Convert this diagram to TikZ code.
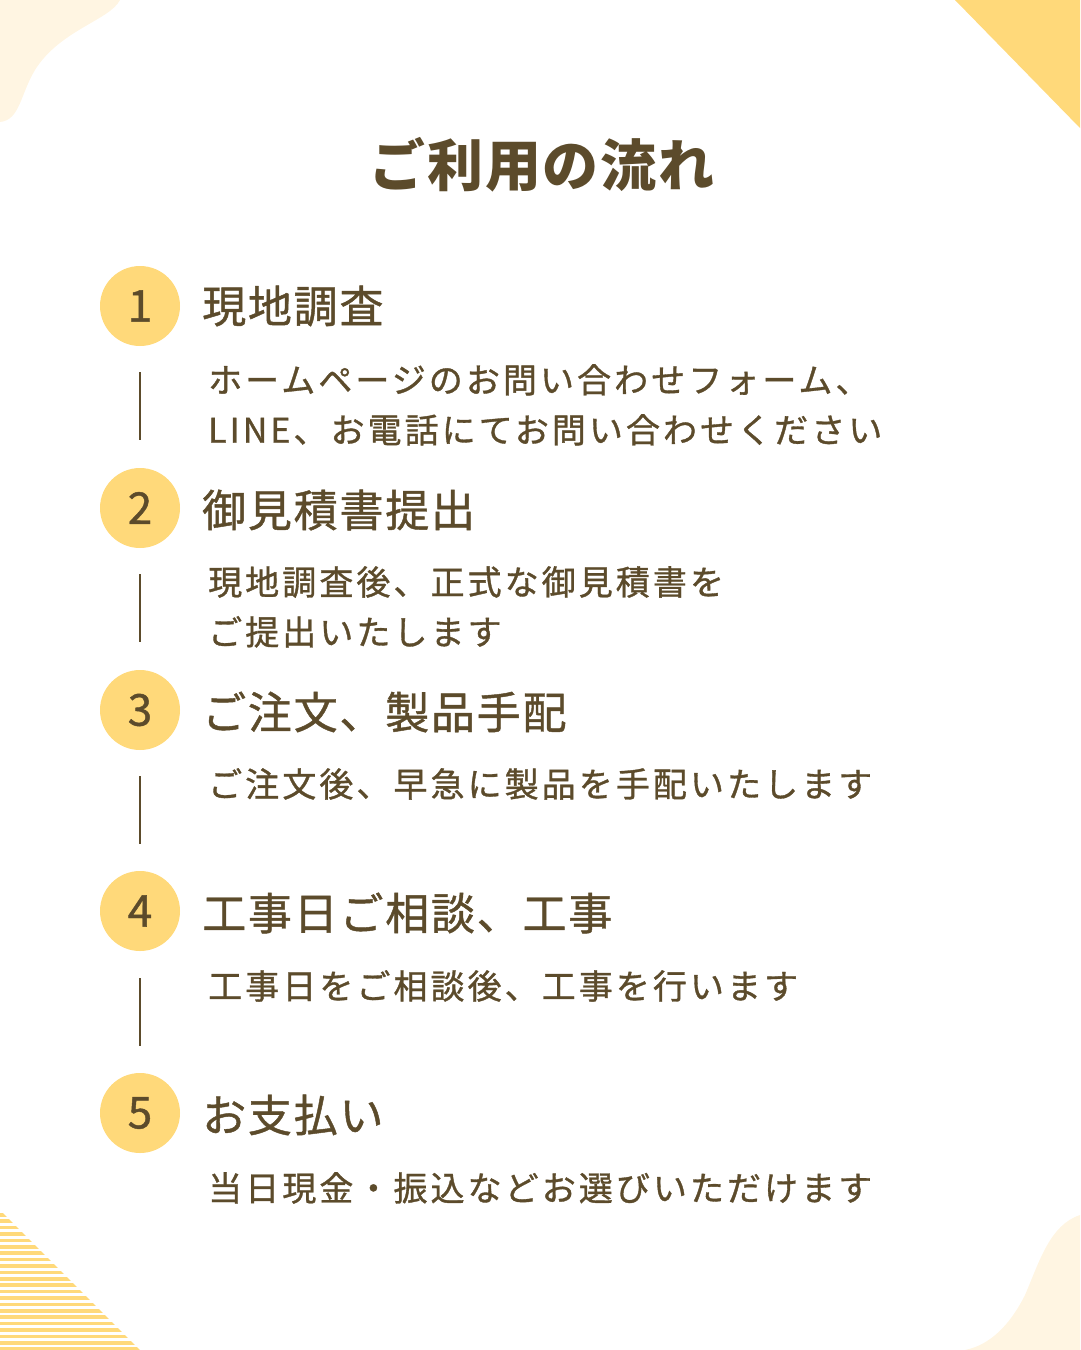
\documentclass[tikz,border=0pt]{standalone}
\usepackage{fontspec}
\setmainfont{Noto Sans CJK JP}
\newfontfamily\descfont[LetterSpace=9,FakeBold=1]{Noto Sans CJK JP}
\newfontfamily\headfont[LetterSpace=4,FakeBold=1]{Noto Sans CJK JP}
\newfontfamily\titlefont[LetterSpace=3]{Noto Sans CJK JP}
\usetikzlibrary{positioning}
\definecolor{ink}{HTML}{5C4B2B}
\definecolor{gold}{HTML}{FFD97A}
\definecolor{cream}{HTML}{FFF5E2}
\tikzset{
  num/.style={circle,fill=gold,minimum size=80pt,inner sep=0pt,text=ink,font=\headfont\fontsize{44}{44}\selectfont},
  head/.style={anchor=west,text=ink,inner sep=0pt,font=\headfont\fontsize{44}{50}\selectfont},
  desc/.style={anchor=north west,text=ink,inner sep=0pt,align=left,font=\descfont\fontsize{34}{50}\selectfont},
  bar/.style={ink,line width=2.5pt}
}
\begin{document}
\begin{tikzpicture}[x=1pt,y=-1pt]
\useasboundingbox (0,0) rectangle (1080,1350);
% corners
\fill[cream] (0,0) -- (120,0) .. controls (110,20) and (60,30) .. (35,70) .. controls (20,95) and (20,120) .. (0,122) -- cycle;
\fill[gold] (955,0) -- (1080,0) -- (1080,128) -- cycle;
\fill[cream] (1080,1215) .. controls (1050,1225) and (1040,1260) .. (1025,1295) .. controls (1010,1325) and (990,1345) .. (965,1350) -- (1080,1350) -- cycle;
\begin{scope}
\clip (0,1210) -- (140,1350) -- (0,1350) -- cycle;
\foreach \k in {0,...,21}
  \fill[gold] (0,{1213+6.4*\k}) rectangle (140,{1216.5+6.4*\k});
\end{scope}
% title
\node[text=ink,font=\titlefont\fontsize{56}{56}\selectfont\bfseries] (title) at (542,165) {ご利用の流れ};
% steps
\node[num] (n1) at (140,306) {1};
\node[head] (h1) at (202,306) {現地調査};
\node[desc] (d1) at (208,364) {ホームページのお問い合わせフォーム、\\LINE、お電話にてお問い合わせください};
\node[num] (n2) at (140,508) {2};
\node[head] (h2) at (202,510) {御見積書提出};
\node[desc] (d2) at (208,566) {現地調査後、正式な御見積書を\\ご提出いたします};
\node[num] (n3) at (140,710) {3};
\node[head] (h3) at (202,712) {ご注文、製品手配};
\node[desc] (d3) at (208,768) {ご注文後、早急に製品を手配いたします};
\node[num] (n4) at (140,911) {4};
\node[head] (h4) at (202,913) {工事日ご相談、工事};
\node[desc] (d4) at (208,970) {工事日をご相談後、工事を行います};
\node[num] (n5) at (140,1113) {5};
\node[head] (h5) at (202,1115) {お支払い};
\node[desc] (d5) at (208,1172) {当日現金・振込などお選びいただけます};
% bars
\foreach \y in {372,574,776,978}
  \draw[bar] (140,\y) -- (140,\y+68);
\end{tikzpicture}
\end{document}
